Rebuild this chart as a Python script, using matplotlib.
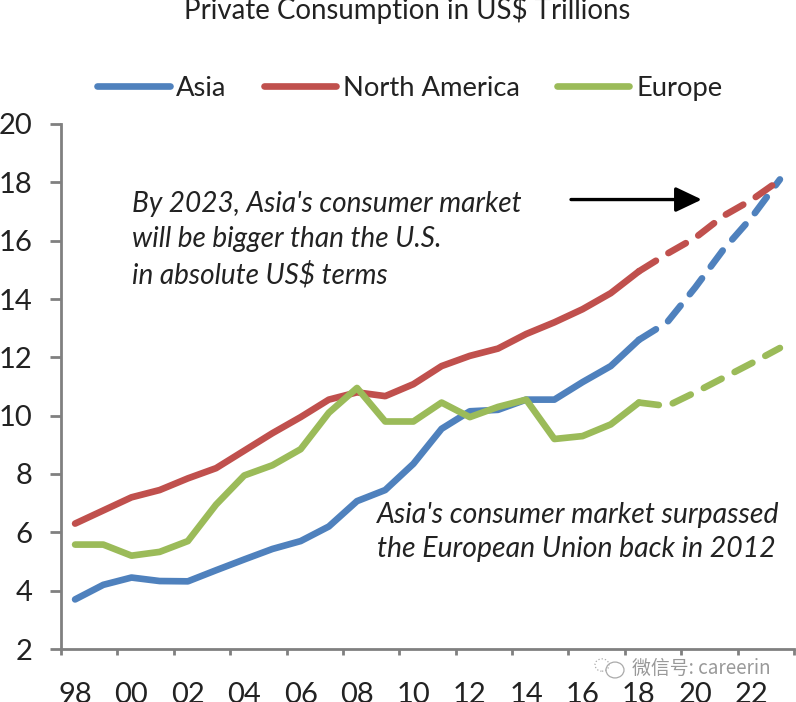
import matplotlib
matplotlib.use("Agg")
import matplotlib.pyplot as plt
from matplotlib.patches import Circle

W, H = 796, 702

years = list(range(1998, 2019))
fc_years = [2018, 2019, 2020, 2021, 2022, 2023]
tick_labels = ["98", "00", "02", "04", "06", "08", "10", "12", "14", "16", "18", "20", "22"]

asia = [3.7, 4.2, 4.45, 4.33, 4.32, 4.7, 5.07, 5.43, 5.7, 6.2, 7.07, 7.45, 8.35, 9.55, 10.15, 10.2, 10.55, 10.55, 11.15, 11.7, 12.6]
namerica = [6.3, 6.75, 7.2, 7.45, 7.85, 8.2, 8.8, 9.4, 9.95, 10.55, 10.8, 10.67, 11.08, 11.7, 12.05, 12.3, 12.8, 13.2, 13.65, 14.2, 14.95]
europe = [5.58, 5.58, 5.2, 5.33, 5.7, 6.95, 7.95, 8.3, 8.85, 10.1, 10.95, 9.8, 9.8, 10.45, 9.95, 10.3, 10.55, 9.2, 9.3, 9.7, 10.45]

asia_fc = [12.6, 13.2, 14.4, 15.7, 16.8, 18.1]
namerica_fc = [14.95, 15.55, 16.1, 16.85, 17.4, 18.08]
europe_fc = [10.45, 10.33, 10.8, 11.3, 11.8, 12.32]

blue = "#4f81bd"
red = "#c0504d"
green = "#9bbb59"

plt.rcParams["font.family"] = ["Lato", "DejaVu Sans"]
plt.rcParams["text.color"] = "#222222"

fig = plt.figure(figsize=(W / 100, H / 100), dpi=100)
ax = fig.add_axes([61 / W, 1 - 649 / H, (794 - 61) / W, (649 - 124) / H])

lw = 4.8
ax.plot(years, asia, color=blue, lw=lw, solid_joinstyle="round", solid_capstyle="round", label="Asia")
ax.plot(years, namerica, color=red, lw=lw, solid_joinstyle="round", solid_capstyle="round", label="North America")
ax.plot(years, europe, color=green, lw=lw, solid_joinstyle="round", solid_capstyle="round", label="Europe")
for ys, c in ((asia_fc, blue), (namerica_fc, red), (europe_fc, green)):
    ax.plot(fc_years, ys, color=c, lw=lw, dashes=(3, 2.2), dash_capstyle="round")

ax.set_xlim(1997.5, 2023.5)
ax.set_ylim(2, 20)
ax.set_yticks(range(2, 21, 2))
ax.set_xticks([y - 0.5 for y in range(1998, 2025, 2)])
ax.set_xticklabels([])
for y, lab in zip(range(1998, 2024, 2), tick_labels):
    ax.annotate(lab, xy=(y, 2), xycoords="data", xytext=(0, -24), textcoords="offset points",
                ha="center", va="top", fontsize=21, annotation_clip=False)

ax.tick_params(axis="both", width=2, color="#808080", labelsize=21, labelcolor="#222222", direction="out")
ax.tick_params(axis="x", length=4.5)
ax.tick_params(axis="y", length=8, pad=12.5)
for s in ("top", "right"):
    ax.spines[s].set_visible(False)
for s in ("left", "bottom"):
    ax.spines[s].set_color("#808080")
    ax.spines[s].set_linewidth(2)

fig.text(407 / W, 1 - 10 / H, "Private Consumption in US$ Trillions", ha="center", va="center", fontsize=19.9)

fig.legend(loc="upper left", bbox_to_anchor=(97 / W, 1 - 76 / H), ncol=3, frameon=False, fontsize=19.7,
           handlelength=2.65, handletextpad=0.25, columnspacing=1.35, borderpad=0, borderaxespad=0)

fig.text(132 / W, 1 - 240 / H, "By 2023, Asia's consumer market\nwill be bigger than the U.S.\nin absolute US\\$ terms",
         fontsize=20.2, style="italic", ha="left", va="center", linespacing=1.42)
fig.text(377 / W, 1 - 532 / H, "Asia's consumer market surpassed\nthe European Union back in 2012",
         fontsize=20.4, style="italic", ha="left", va="center", linespacing=1.42)

ax.annotate("", xy=(2020.23, 17.41), xytext=(2015.59, 17.41),
            arrowprops=dict(arrowstyle="-|>,head_width=0.38,head_length=0.8", color="black", lw=2.4,
                            shrinkA=0, shrinkB=0, mutation_scale=20))

# watermark logo + text
for cx, cy, r, st in ((602, 665, 7, ":"), (615, 670, 9, "-")):
    fig.add_artist(Circle((cx / W, 1 - cy / H), r / W, fill=False, ec="#aaaaaa", lw=0.9, ls=st,
                          transform=fig.transFigure))
fig.text(632 / W, 1 - 668 / H, "微信号: careerin", ha="left", va="center", fontsize=13.6, color="#999999",
         family=["Noto Sans CJK SC", "DejaVu Sans"])

fig.savefig("out.png", dpi=100)
